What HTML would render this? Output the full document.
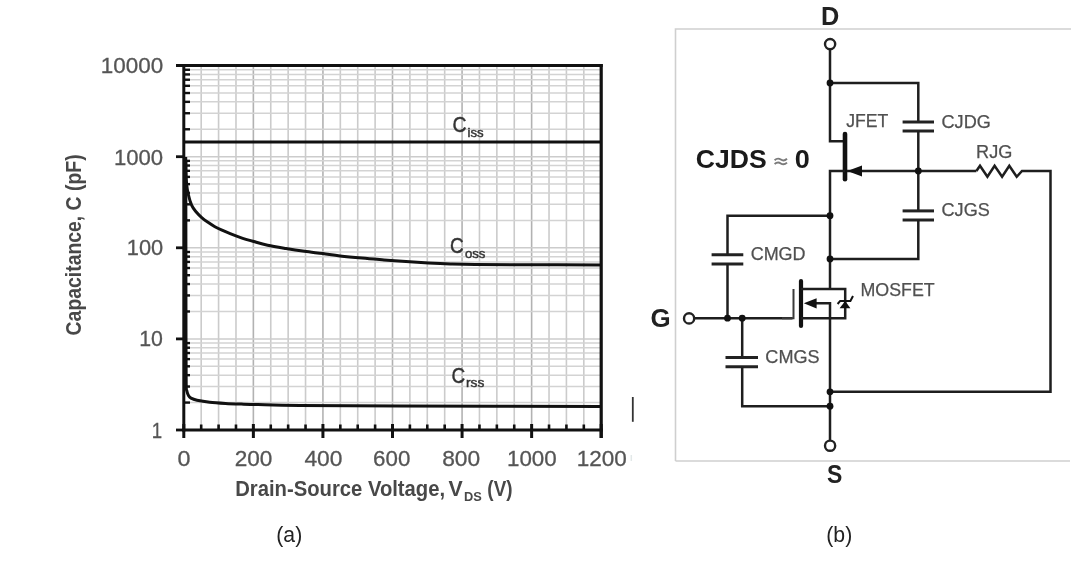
<!DOCTYPE html>
<html><head><meta charset="utf-8"><style>
html,body{margin:0;padding:0;background:#fff;}
body{width:1085px;height:568px;overflow:hidden;}
svg{display:block;filter:blur(0.6px);}
text{font-family:"Liberation Sans",sans-serif;}
.tk{font-size:20.5px;fill:#555;stroke:#555;stroke-width:0.3px;}
.ttl{font-size:21px;font-weight:bold;fill:#484848;}
.cl{font-size:21.5px;fill:#333;stroke:#333;stroke-width:0.45px;}
.cap{font-size:22px;fill:#222;}
.cb{font-size:25px;font-weight:bold;fill:#222;}
.cb2{font-size:25.5px;font-weight:bold;fill:#1a1a1a;}
.cr{font-size:17.5px;fill:#505050;stroke:#505050;stroke-width:0.25px;}
</style></head><body>
<svg width="1085" height="568" viewBox="0 0 1085 568">
<rect width="1085" height="568" fill="#fff"/>
<line x1="201.19" y1="65.6" x2="201.19" y2="430" stroke="#cbcbcb" stroke-width="1.6"/>
<line x1="218.58" y1="65.6" x2="218.58" y2="430" stroke="#cbcbcb" stroke-width="1.6"/>
<line x1="235.98" y1="65.6" x2="235.98" y2="430" stroke="#cbcbcb" stroke-width="1.6"/>
<line x1="253.37" y1="65.6" x2="253.37" y2="430" stroke="#b2b2b2" stroke-width="1.6"/>
<line x1="270.76" y1="65.6" x2="270.76" y2="430" stroke="#cbcbcb" stroke-width="1.6"/>
<line x1="288.15" y1="65.6" x2="288.15" y2="430" stroke="#cbcbcb" stroke-width="1.6"/>
<line x1="305.54" y1="65.6" x2="305.54" y2="430" stroke="#cbcbcb" stroke-width="1.6"/>
<line x1="322.93" y1="65.6" x2="322.93" y2="430" stroke="#b2b2b2" stroke-width="1.6"/>
<line x1="340.33" y1="65.6" x2="340.33" y2="430" stroke="#cbcbcb" stroke-width="1.6"/>
<line x1="357.72" y1="65.6" x2="357.72" y2="430" stroke="#cbcbcb" stroke-width="1.6"/>
<line x1="375.11" y1="65.6" x2="375.11" y2="430" stroke="#cbcbcb" stroke-width="1.6"/>
<line x1="392.50" y1="65.6" x2="392.50" y2="430" stroke="#b2b2b2" stroke-width="1.6"/>
<line x1="409.89" y1="65.6" x2="409.89" y2="430" stroke="#cbcbcb" stroke-width="1.6"/>
<line x1="427.28" y1="65.6" x2="427.28" y2="430" stroke="#cbcbcb" stroke-width="1.6"/>
<line x1="444.68" y1="65.6" x2="444.68" y2="430" stroke="#cbcbcb" stroke-width="1.6"/>
<line x1="462.07" y1="65.6" x2="462.07" y2="430" stroke="#b2b2b2" stroke-width="1.6"/>
<line x1="479.46" y1="65.6" x2="479.46" y2="430" stroke="#cbcbcb" stroke-width="1.6"/>
<line x1="496.85" y1="65.6" x2="496.85" y2="430" stroke="#cbcbcb" stroke-width="1.6"/>
<line x1="514.24" y1="65.6" x2="514.24" y2="430" stroke="#cbcbcb" stroke-width="1.6"/>
<line x1="531.63" y1="65.6" x2="531.63" y2="430" stroke="#b2b2b2" stroke-width="1.6"/>
<line x1="549.03" y1="65.6" x2="549.03" y2="430" stroke="#cbcbcb" stroke-width="1.6"/>
<line x1="566.42" y1="65.6" x2="566.42" y2="430" stroke="#cbcbcb" stroke-width="1.6"/>
<line x1="583.81" y1="65.6" x2="583.81" y2="430" stroke="#cbcbcb" stroke-width="1.6"/>
<line x1="183.80" y1="402.58" x2="601.20" y2="402.58" stroke="#d3d3d3" stroke-width="1.5"/>
<line x1="183.80" y1="386.53" x2="601.20" y2="386.53" stroke="#d3d3d3" stroke-width="1.5"/>
<line x1="183.80" y1="375.15" x2="601.20" y2="375.15" stroke="#d3d3d3" stroke-width="1.5"/>
<line x1="183.80" y1="366.32" x2="601.20" y2="366.32" stroke="#d3d3d3" stroke-width="1.5"/>
<line x1="183.80" y1="359.11" x2="601.20" y2="359.11" stroke="#d3d3d3" stroke-width="1.5"/>
<line x1="183.80" y1="353.01" x2="601.20" y2="353.01" stroke="#d3d3d3" stroke-width="1.5"/>
<line x1="183.80" y1="347.73" x2="601.20" y2="347.73" stroke="#d3d3d3" stroke-width="1.5"/>
<line x1="183.80" y1="343.07" x2="601.20" y2="343.07" stroke="#d3d3d3" stroke-width="1.5"/>
<line x1="183.80" y1="338.90" x2="601.20" y2="338.90" stroke="#cccccc" stroke-width="1.5"/>
<line x1="183.80" y1="311.48" x2="601.20" y2="311.48" stroke="#d3d3d3" stroke-width="1.5"/>
<line x1="183.80" y1="295.43" x2="601.20" y2="295.43" stroke="#d3d3d3" stroke-width="1.5"/>
<line x1="183.80" y1="284.05" x2="601.20" y2="284.05" stroke="#d3d3d3" stroke-width="1.5"/>
<line x1="183.80" y1="275.22" x2="601.20" y2="275.22" stroke="#d3d3d3" stroke-width="1.5"/>
<line x1="183.80" y1="268.01" x2="601.20" y2="268.01" stroke="#d3d3d3" stroke-width="1.5"/>
<line x1="183.80" y1="261.91" x2="601.20" y2="261.91" stroke="#d3d3d3" stroke-width="1.5"/>
<line x1="183.80" y1="256.63" x2="601.20" y2="256.63" stroke="#d3d3d3" stroke-width="1.5"/>
<line x1="183.80" y1="251.97" x2="601.20" y2="251.97" stroke="#d3d3d3" stroke-width="1.5"/>
<line x1="183.80" y1="247.80" x2="601.20" y2="247.80" stroke="#cccccc" stroke-width="1.5"/>
<line x1="183.80" y1="220.38" x2="601.20" y2="220.38" stroke="#d3d3d3" stroke-width="1.5"/>
<line x1="183.80" y1="204.33" x2="601.20" y2="204.33" stroke="#d3d3d3" stroke-width="1.5"/>
<line x1="183.80" y1="192.95" x2="601.20" y2="192.95" stroke="#d3d3d3" stroke-width="1.5"/>
<line x1="183.80" y1="184.12" x2="601.20" y2="184.12" stroke="#d3d3d3" stroke-width="1.5"/>
<line x1="183.80" y1="176.91" x2="601.20" y2="176.91" stroke="#d3d3d3" stroke-width="1.5"/>
<line x1="183.80" y1="170.81" x2="601.20" y2="170.81" stroke="#d3d3d3" stroke-width="1.5"/>
<line x1="183.80" y1="165.53" x2="601.20" y2="165.53" stroke="#d3d3d3" stroke-width="1.5"/>
<line x1="183.80" y1="160.87" x2="601.20" y2="160.87" stroke="#d3d3d3" stroke-width="1.5"/>
<line x1="183.80" y1="156.70" x2="601.20" y2="156.70" stroke="#cccccc" stroke-width="1.5"/>
<line x1="183.80" y1="129.28" x2="601.20" y2="129.28" stroke="#d3d3d3" stroke-width="1.5"/>
<line x1="183.80" y1="113.23" x2="601.20" y2="113.23" stroke="#d3d3d3" stroke-width="1.5"/>
<line x1="183.80" y1="101.85" x2="601.20" y2="101.85" stroke="#d3d3d3" stroke-width="1.5"/>
<line x1="183.80" y1="93.02" x2="601.20" y2="93.02" stroke="#d3d3d3" stroke-width="1.5"/>
<line x1="183.80" y1="85.81" x2="601.20" y2="85.81" stroke="#d3d3d3" stroke-width="1.5"/>
<line x1="183.80" y1="79.71" x2="601.20" y2="79.71" stroke="#d3d3d3" stroke-width="1.5"/>
<line x1="183.80" y1="74.43" x2="601.20" y2="74.43" stroke="#d3d3d3" stroke-width="1.5"/>
<line x1="183.80" y1="69.77" x2="601.20" y2="69.77" stroke="#d3d3d3" stroke-width="1.5"/>
<line x1="183.80" y1="402.58" x2="190.00" y2="402.58" stroke="#111" stroke-width="2.4"/>
<line x1="183.80" y1="386.53" x2="190.00" y2="386.53" stroke="#111" stroke-width="2.4"/>
<line x1="183.80" y1="375.15" x2="190.00" y2="375.15" stroke="#111" stroke-width="2.4"/>
<line x1="183.80" y1="366.32" x2="190.00" y2="366.32" stroke="#111" stroke-width="2.4"/>
<line x1="183.80" y1="359.11" x2="190.00" y2="359.11" stroke="#111" stroke-width="2.4"/>
<line x1="183.80" y1="353.01" x2="190.00" y2="353.01" stroke="#111" stroke-width="2.4"/>
<line x1="183.80" y1="347.73" x2="190.00" y2="347.73" stroke="#111" stroke-width="2.4"/>
<line x1="183.80" y1="343.07" x2="190.00" y2="343.07" stroke="#111" stroke-width="2.4"/>
<line x1="183.80" y1="311.48" x2="190.00" y2="311.48" stroke="#111" stroke-width="2.4"/>
<line x1="183.80" y1="295.43" x2="190.00" y2="295.43" stroke="#111" stroke-width="2.4"/>
<line x1="183.80" y1="284.05" x2="190.00" y2="284.05" stroke="#111" stroke-width="2.4"/>
<line x1="183.80" y1="275.22" x2="190.00" y2="275.22" stroke="#111" stroke-width="2.4"/>
<line x1="183.80" y1="268.01" x2="190.00" y2="268.01" stroke="#111" stroke-width="2.4"/>
<line x1="183.80" y1="261.91" x2="190.00" y2="261.91" stroke="#111" stroke-width="2.4"/>
<line x1="183.80" y1="256.63" x2="190.00" y2="256.63" stroke="#111" stroke-width="2.4"/>
<line x1="183.80" y1="251.97" x2="190.00" y2="251.97" stroke="#111" stroke-width="2.4"/>
<line x1="183.80" y1="220.38" x2="190.00" y2="220.38" stroke="#111" stroke-width="2.4"/>
<line x1="183.80" y1="204.33" x2="190.00" y2="204.33" stroke="#111" stroke-width="2.4"/>
<line x1="183.80" y1="192.95" x2="190.00" y2="192.95" stroke="#111" stroke-width="2.4"/>
<line x1="183.80" y1="184.12" x2="190.00" y2="184.12" stroke="#111" stroke-width="2.4"/>
<line x1="183.80" y1="176.91" x2="190.00" y2="176.91" stroke="#111" stroke-width="2.4"/>
<line x1="183.80" y1="170.81" x2="190.00" y2="170.81" stroke="#111" stroke-width="2.4"/>
<line x1="183.80" y1="165.53" x2="190.00" y2="165.53" stroke="#111" stroke-width="2.4"/>
<line x1="183.80" y1="160.87" x2="190.00" y2="160.87" stroke="#111" stroke-width="2.4"/>
<line x1="183.80" y1="129.28" x2="190.00" y2="129.28" stroke="#111" stroke-width="2.4"/>
<line x1="183.80" y1="113.23" x2="190.00" y2="113.23" stroke="#111" stroke-width="2.4"/>
<line x1="183.80" y1="101.85" x2="190.00" y2="101.85" stroke="#111" stroke-width="2.4"/>
<line x1="183.80" y1="93.02" x2="190.00" y2="93.02" stroke="#111" stroke-width="2.4"/>
<line x1="183.80" y1="85.81" x2="190.00" y2="85.81" stroke="#111" stroke-width="2.4"/>
<line x1="183.80" y1="79.71" x2="190.00" y2="79.71" stroke="#111" stroke-width="2.4"/>
<line x1="183.80" y1="74.43" x2="190.00" y2="74.43" stroke="#111" stroke-width="2.4"/>
<line x1="183.80" y1="69.77" x2="190.00" y2="69.77" stroke="#111" stroke-width="2.4"/>
<line x1="176" y1="430.00" x2="183.80" y2="430.00" stroke="#111" stroke-width="2.8"/>
<line x1="176" y1="338.90" x2="183.80" y2="338.90" stroke="#111" stroke-width="2.8"/>
<line x1="176" y1="247.80" x2="183.80" y2="247.80" stroke="#111" stroke-width="2.8"/>
<line x1="176" y1="156.70" x2="183.80" y2="156.70" stroke="#111" stroke-width="2.8"/>
<line x1="176" y1="65.60" x2="183.80" y2="65.60" stroke="#111" stroke-width="2.8"/>
<line x1="183.80" y1="424" x2="183.80" y2="438" stroke="#111" stroke-width="3"/>
<line x1="201.19" y1="424.5" x2="201.19" y2="430" stroke="#111" stroke-width="2.6"/>
<line x1="218.58" y1="424.5" x2="218.58" y2="430" stroke="#111" stroke-width="2.6"/>
<line x1="235.98" y1="424.5" x2="235.98" y2="430" stroke="#111" stroke-width="2.6"/>
<line x1="253.37" y1="424" x2="253.37" y2="438" stroke="#111" stroke-width="3"/>
<line x1="270.76" y1="424.5" x2="270.76" y2="430" stroke="#111" stroke-width="2.6"/>
<line x1="288.15" y1="424.5" x2="288.15" y2="430" stroke="#111" stroke-width="2.6"/>
<line x1="305.54" y1="424.5" x2="305.54" y2="430" stroke="#111" stroke-width="2.6"/>
<line x1="322.93" y1="424" x2="322.93" y2="438" stroke="#111" stroke-width="3"/>
<line x1="340.33" y1="424.5" x2="340.33" y2="430" stroke="#111" stroke-width="2.6"/>
<line x1="357.72" y1="424.5" x2="357.72" y2="430" stroke="#111" stroke-width="2.6"/>
<line x1="375.11" y1="424.5" x2="375.11" y2="430" stroke="#111" stroke-width="2.6"/>
<line x1="392.50" y1="424" x2="392.50" y2="438" stroke="#111" stroke-width="3"/>
<line x1="409.89" y1="424.5" x2="409.89" y2="430" stroke="#111" stroke-width="2.6"/>
<line x1="427.28" y1="424.5" x2="427.28" y2="430" stroke="#111" stroke-width="2.6"/>
<line x1="444.68" y1="424.5" x2="444.68" y2="430" stroke="#111" stroke-width="2.6"/>
<line x1="462.07" y1="424" x2="462.07" y2="438" stroke="#111" stroke-width="3"/>
<line x1="479.46" y1="424.5" x2="479.46" y2="430" stroke="#111" stroke-width="2.6"/>
<line x1="496.85" y1="424.5" x2="496.85" y2="430" stroke="#111" stroke-width="2.6"/>
<line x1="514.24" y1="424.5" x2="514.24" y2="430" stroke="#111" stroke-width="2.6"/>
<line x1="531.63" y1="424" x2="531.63" y2="438" stroke="#111" stroke-width="3"/>
<line x1="549.03" y1="424.5" x2="549.03" y2="430" stroke="#111" stroke-width="2.6"/>
<line x1="566.42" y1="424.5" x2="566.42" y2="430" stroke="#111" stroke-width="2.6"/>
<line x1="583.81" y1="424.5" x2="583.81" y2="430" stroke="#111" stroke-width="2.6"/>
<line x1="601.20" y1="424" x2="601.20" y2="438" stroke="#111" stroke-width="3"/>
<line x1="183.80" y1="142.1" x2="601.20" y2="142.1" stroke="#111" stroke-width="3"/>
<path d="M185.70,157.00 C185.73,159.50 185.75,167.50 185.90,172.00 C186.05,176.50 186.22,180.33 186.60,184.00 C186.98,187.67 187.37,190.47 188.20,194.00 C189.03,197.53 190.30,202.23 191.60,205.20 C192.90,208.17 194.27,209.70 196.00,211.80 C197.73,213.90 200.00,216.05 202.00,217.80 C204.00,219.55 205.85,220.82 208.00,222.30 C210.15,223.78 212.57,225.38 214.90,226.70 C217.23,228.02 219.55,229.08 222.00,230.20 C224.45,231.32 226.60,232.22 229.60,233.40 C232.60,234.58 235.97,235.95 240.00,237.30 C244.03,238.65 249.20,240.18 253.80,241.50 C258.40,242.82 262.23,244.03 267.60,245.20 C272.97,246.37 279.87,247.48 286.00,248.50 C292.13,249.52 298.25,250.45 304.40,251.30 C310.55,252.15 316.97,252.83 322.90,253.60 C328.83,254.37 333.48,255.15 340.00,255.90 C346.52,256.65 354.67,257.43 362.00,258.10 C369.33,258.77 376.67,259.32 384.00,259.90 C391.33,260.48 398.58,261.08 406.00,261.60 C413.42,262.12 421.07,262.60 428.50,263.00 C435.93,263.40 442.85,263.73 450.60,264.00 C458.35,264.27 463.43,264.47 475.00,264.60 C486.57,264.73 498.97,264.75 520.00,264.80 C541.03,264.85 587.67,264.88 601.20,264.90" fill="none" stroke="#111" stroke-width="3"/>
<path d="M185.80,160.00 C185.82,175.00 185.87,220.00 185.90,250.00 C185.93,280.00 185.95,317.67 186.00,340.00 C186.05,362.33 186.03,375.42 186.20,384.00 C186.37,392.58 186.60,389.53 187.00,391.50 C187.40,393.47 187.93,394.68 188.60,395.80 C189.27,396.92 189.60,397.47 191.00,398.20 C192.40,398.93 193.88,399.53 197.00,400.20 C200.12,400.87 204.95,401.67 209.70,402.20 C214.45,402.73 220.22,403.08 225.50,403.40 C230.78,403.72 235.98,403.90 241.40,404.10 C246.82,404.30 248.23,404.38 258.00,404.60 C267.77,404.82 276.33,405.15 300.00,405.40 C323.67,405.65 349.80,405.92 400.00,406.10 C450.20,406.28 567.67,406.43 601.20,406.50" fill="none" stroke="#111" stroke-width="3"/>
<line x1="183.80" y1="64" x2="183.80" y2="431.5" stroke="#111" stroke-width="3"/>
<line x1="182.30" y1="430" x2="602.70" y2="430" stroke="#111" stroke-width="3"/>
<line x1="176" y1="65.6" x2="602.70" y2="65.6" stroke="#111" stroke-width="3"/>
<line x1="601.20" y1="64.1" x2="601.20" y2="438" stroke="#111" stroke-width="3.2"/>
<text transform="translate(80.6,335.4) rotate(-90)" x="0" y="0" textLength="181" lengthAdjust="spacingAndGlyphs" class="ttl" style="font-size:22px">Capacitance, C (pF)</text>
<line x1="631.3" y1="455" x2="631.3" y2="461" stroke="#e2e8e8" stroke-width="1.5"/>
<line x1="632.8" y1="397" x2="632.8" y2="421.8" stroke="#333" stroke-width="1.8"/>
<path d="M675.5,461 L675.5,29 L1071,29 M675.5,461 L1070,461" stroke="#cfcfcf" stroke-width="1.6" fill="none"/>
<circle cx="830.1" cy="44.1" r="5.1" fill="#fff" stroke="#222" stroke-width="2.4"/>
<path d="M830,49.2 L830,141.3 L843,141.3" stroke="#1e1e1e" stroke-width="2.5" fill="none"/>
<path d="M830,83 L918.3,83 L918.3,122" stroke="#1e1e1e" stroke-width="2.5" fill="none"/>
<line x1="902.6" y1="122" x2="934" y2="122" stroke="#222" stroke-width="3"/>
<line x1="902.6" y1="131" x2="934" y2="131" stroke="#222" stroke-width="3"/>
<path d="M918.3,131 L918.3,210.9" stroke="#1e1e1e" stroke-width="2.5" fill="none"/>
<line x1="902.6" y1="210.9" x2="934" y2="210.9" stroke="#222" stroke-width="3"/>
<line x1="902.6" y1="220" x2="934" y2="220" stroke="#222" stroke-width="3"/>
<path d="M918.3,220 L918.3,259 L830,259" stroke="#1e1e1e" stroke-width="2.5" fill="none"/>
<line x1="845" y1="134" x2="845" y2="179.3" stroke="#111" stroke-width="4.6" stroke-linecap="round"/>
<path d="M830,215.7 L830,171 L845,171" stroke="#1e1e1e" stroke-width="2.5" fill="none"/>
<path d="M847,171 L976.4,171" stroke="#1e1e1e" stroke-width="2.5" fill="none"/>
<path d="M847.3,171 L862,165.6 L862,176.4 Z" fill="#111"/>
<path d="M976.4,171 L980,165.7 L987.4,176.8 L994.6,165.7 L1002.1,176.8 L1009.3,165.7 L1016.7,176.8 L1022,171 L1050.5,171 L1050.5,391.8 L830,391.8" stroke="#1e1e1e" stroke-width="2.5" fill="none" stroke-linejoin="miter"/>
<path d="M830,215.7 L727.5,215.7 L727.5,254.8" stroke="#1e1e1e" stroke-width="2.5" fill="none"/>
<line x1="711.6" y1="254.8" x2="743.3" y2="254.8" stroke="#222" stroke-width="3"/>
<line x1="711.6" y1="263.9" x2="743.3" y2="263.9" stroke="#222" stroke-width="3"/>
<path d="M727.5,263.9 L727.5,318.2" stroke="#1e1e1e" stroke-width="2.5" fill="none"/>
<path d="M830,215.7 L830,288.9" stroke="#1e1e1e" stroke-width="2.5" fill="none"/>
<path d="M694.2,318.2 L792.5,318.2" stroke="#1e1e1e" stroke-width="2.5" fill="none"/>
<path d="M782,318.2 L793.5,318.2 L793.5,288.9" stroke="#3a3a3a" stroke-width="2.0" fill="none"/>
<line x1="801" y1="281" x2="801" y2="326" stroke="#111" stroke-width="4.2" stroke-linecap="round"/>
<path d="M801,288.9 L845.2,288.9 L845.2,318.2 L801,318.2" stroke="#1e1e1e" stroke-width="2.5" fill="none"/>
<path d="M812,303.3 L830,303.3 L830,440.6" stroke="#1e1e1e" stroke-width="2.5" fill="none"/>
<path d="M803.8,303.3 L816.6,298.2 L816.6,308.4 Z" fill="#111"/>
<path d="M839.6,308.3 L845.2,300.9 L850.4,308.3 Z" fill="#111"/>
<path d="M837.6,304 L840.2,300.9 L850.4,300.9 L853,296" stroke="#111" stroke-width="2" fill="none"/>
<path d="M742.2,318.2 L742.2,357.6" stroke="#1e1e1e" stroke-width="2.5" fill="none"/>
<line x1="725.5" y1="357.6" x2="758" y2="357.6" stroke="#222" stroke-width="3"/>
<line x1="725.5" y1="366.7" x2="758" y2="366.7" stroke="#222" stroke-width="3"/>
<path d="M742.2,366.7 L742.2,406.2 L830,406.2" stroke="#1e1e1e" stroke-width="2.5" fill="none"/>
<circle cx="689.1" cy="318.4" r="5.1" fill="#fff" stroke="#222" stroke-width="2.4"/>
<circle cx="830.1" cy="445.7" r="5.1" fill="#fff" stroke="#222" stroke-width="2.4"/>
<circle cx="830" cy="83" r="3.4" fill="#111"/>
<circle cx="918.3" cy="171" r="3.4" fill="#111"/>
<circle cx="830" cy="215.7" r="3.4" fill="#111"/>
<circle cx="830" cy="259" r="3.4" fill="#111"/>
<circle cx="727.5" cy="318.2" r="3.4" fill="#111"/>
<circle cx="742.2" cy="318.2" r="3.4" fill="#111"/>
<circle cx="830" cy="391.8" r="3.4" fill="#111"/>
<circle cx="830" cy="406.2" r="3.4" fill="#111"/>
<path d="M774.6,160.2 Q777.7,157.4 780.8,159.6 T787,158.8 M774.6,164.0 Q777.7,161.2 780.8,163.4 T787,162.6" stroke="#7a7a7a" stroke-width="1.9" fill="none"/>
<text x="100.78" y="72.51" textLength="62.38" lengthAdjust="spacingAndGlyphs" class="tk" style="font-size:22.30px">10000</text>
<text x="113.88" y="164.51" textLength="49.18" lengthAdjust="spacingAndGlyphs" class="tk" style="font-size:22.30px">1000</text>
<text x="126.76" y="255.16" textLength="36.41" lengthAdjust="spacingAndGlyphs" class="tk" style="font-size:22.30px">100</text>
<text x="139.25" y="346.46" textLength="23.73" lengthAdjust="spacingAndGlyphs" class="tk" style="font-size:22.30px">10</text>
<text x="151.66" y="437.50" textLength="10.39" lengthAdjust="spacingAndGlyphs" class="tk" style="font-size:22.30px">1</text>
<text x="177.54" y="466.01" textLength="12.97" lengthAdjust="spacingAndGlyphs" class="tk" style="font-size:22.30px">0</text>
<text x="234.69" y="466.01" textLength="37.72" lengthAdjust="spacingAndGlyphs" class="tk" style="font-size:22.30px">200</text>
<text x="304.40" y="466.01" textLength="38.05" lengthAdjust="spacingAndGlyphs" class="tk" style="font-size:22.30px">400</text>
<text x="373.09" y="466.01" textLength="37.22" lengthAdjust="spacingAndGlyphs" class="tk" style="font-size:22.30px">600</text>
<text x="442.19" y="466.01" textLength="38.01" lengthAdjust="spacingAndGlyphs" class="tk" style="font-size:22.30px">800</text>
<text x="506.97" y="466.01" textLength="49.74" lengthAdjust="spacingAndGlyphs" class="tk" style="font-size:22.30px">1000</text>
<text x="576.67" y="466.01" textLength="50.10" lengthAdjust="spacingAndGlyphs" class="tk" style="font-size:22.30px">1200</text>
<text x="235.19" y="495.56" textLength="209.92" lengthAdjust="spacingAndGlyphs" class="ttl" style="font-size:21.70px">Drain-Source Voltage,</text>
<text x="448.57" y="495.71" textLength="14.22" lengthAdjust="spacingAndGlyphs" class="ttl" style="font-size:21.70px">V</text>
<text x="463.89" y="500.64" textLength="17.82" lengthAdjust="spacingAndGlyphs" class="ttl" style="font-size:13.10px">DS</text>
<text x="487.37" y="495.71" textLength="25.15" lengthAdjust="spacingAndGlyphs" class="ttl" style="font-size:21.70px">(V)</text>
<text x="452.55" y="132.15" textLength="14.04" lengthAdjust="spacingAndGlyphs" class="cl" style="font-size:21.80px">C</text>
<text x="467.46" y="137.17" textLength="16.13" lengthAdjust="spacingAndGlyphs" class="cl" style="font-size:12.60px">iss</text>
<text x="450.06" y="253.00" textLength="13.69" lengthAdjust="spacingAndGlyphs" class="cl" style="font-size:21.80px">C</text>
<text x="464.91" y="257.65" textLength="20.53" lengthAdjust="spacingAndGlyphs" class="cl" style="font-size:12.60px">oss</text>
<text x="451.46" y="382.90" textLength="13.69" lengthAdjust="spacingAndGlyphs" class="cl" style="font-size:21.80px">C</text>
<text x="466.06" y="387.40" textLength="18.28" lengthAdjust="spacingAndGlyphs" class="cl" style="font-size:12.60px">rss</text>
<text x="276.28" y="542.32" textLength="25.94" lengthAdjust="spacingAndGlyphs" class="cap" style="font-size:21.40px">(a)</text>
<text x="826.28" y="542.32" textLength="25.94" lengthAdjust="spacingAndGlyphs" class="cap" style="font-size:21.40px">(b)</text>
<text x="820.99" y="24.69" textLength="18.29" lengthAdjust="spacingAndGlyphs" class="cb" style="font-size:26.20px">D</text>
<text x="827.04" y="483.04" textLength="15.32" lengthAdjust="spacingAndGlyphs" class="cb" style="font-size:26.20px">S</text>
<text x="650.43" y="326.59" textLength="20.13" lengthAdjust="spacingAndGlyphs" class="cb" style="font-size:26.20px">G</text>
<text x="695.69" y="167.82" textLength="70.97" lengthAdjust="spacingAndGlyphs" class="cb2" style="font-size:26.00px">CJDS</text>
<text x="794.75" y="167.92" textLength="15.06" lengthAdjust="spacingAndGlyphs" class="cb2" style="font-size:26.00px">0</text>
<text x="846.25" y="126.53" textLength="42.14" lengthAdjust="spacingAndGlyphs" class="cr" style="font-size:18.60px">JFET</text>
<text x="941.54" y="127.51" textLength="49.27" lengthAdjust="spacingAndGlyphs" class="cr" style="font-size:18.60px">CJDG</text>
<text x="976.11" y="157.66" textLength="36.33" lengthAdjust="spacingAndGlyphs" class="cr" style="font-size:18.60px">RJG</text>
<text x="941.55" y="215.66" textLength="48.25" lengthAdjust="spacingAndGlyphs" class="cr" style="font-size:18.60px">CJGS</text>
<text x="750.65" y="260.01" textLength="54.95" lengthAdjust="spacingAndGlyphs" class="cr" style="font-size:18.60px">CMGD</text>
<text x="860.45" y="295.61" textLength="74.30" lengthAdjust="spacingAndGlyphs" class="cr" style="font-size:18.60px">MOSFET</text>
<text x="765.35" y="363.26" textLength="54.25" lengthAdjust="spacingAndGlyphs" class="cr" style="font-size:18.60px">CMGS</text>
</svg>
</body></html>
